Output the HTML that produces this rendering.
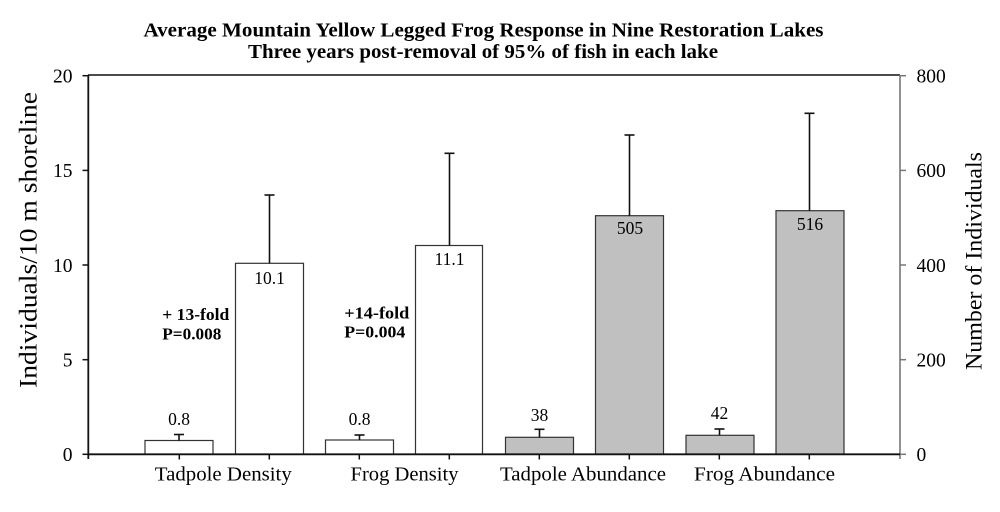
<!DOCTYPE html>
<html>
<head>
<meta charset="utf-8">
<style>
  html,body{margin:0;padding:0;background:#fff;}
  svg{display:block;}
  text{font-family:"Liberation Serif","Times New Roman",serif;fill:#000;}
</style>
</head>
<body>
<svg width="1000" height="512" viewBox="0 0 1000 512" xmlns="http://www.w3.org/2000/svg">
  <rect x="0" y="0" width="1000" height="512" fill="#fff"/>

  <!-- Title -->
  <text x="483.5" y="36.5" text-anchor="middle" font-size="20.5" font-weight="bold" textLength="680" lengthAdjust="spacingAndGlyphs">Average Mountain Yellow Legged Frog Response in Nine Restoration Lakes</text>
  <text x="483" y="58" text-anchor="middle" font-size="20.5" font-weight="bold" textLength="470" lengthAdjust="spacingAndGlyphs">Three years post-removal of 95% of fish in each lake</text>

  <!-- Bars -->
  <g stroke="#333" stroke-width="1.2">
    <rect x="145" y="440.5" width="68" height="13.8" fill="#fff"/>
    <rect x="235.5" y="263.3" width="68" height="191" fill="#fff"/>
    <rect x="325.5" y="440" width="68" height="14.3" fill="#fff"/>
    <rect x="415.5" y="245.5" width="67" height="208.8" fill="#fff"/>
    <rect x="505.5" y="437.3" width="68" height="17" fill="#c0c0c0"/>
    <rect x="595.5" y="215.7" width="68" height="238.6" fill="#c0c0c0"/>
    <rect x="686" y="435.3" width="68" height="19" fill="#c0c0c0"/>
    <rect x="776" y="210.7" width="68" height="243.6" fill="#c0c0c0"/>
  </g>

  <!-- Error bars -->
  <g stroke="#111" stroke-width="1.6" fill="none">
    <line x1="179" y1="440.5" x2="179" y2="434.5"/><line x1="174" y1="434.5" x2="184" y2="434.5"/>
    <line x1="269.5" y1="263.3" x2="269.5" y2="195"/><line x1="264.5" y1="195" x2="274.5" y2="195"/>
    <line x1="359.5" y1="440" x2="359.5" y2="435"/><line x1="354.5" y1="435" x2="364.5" y2="435"/>
    <line x1="449.5" y1="245.5" x2="449.5" y2="153.3"/><line x1="444.5" y1="153.3" x2="454.5" y2="153.3"/>
    <line x1="539.5" y1="437.3" x2="539.5" y2="429.3"/><line x1="534.5" y1="429.3" x2="544.5" y2="429.3"/>
    <line x1="629.5" y1="215.7" x2="629.5" y2="135"/><line x1="624.5" y1="135" x2="634.5" y2="135"/>
    <line x1="719.5" y1="435.3" x2="719.5" y2="429"/><line x1="714.5" y1="429" x2="724.5" y2="429"/>
    <line x1="809.5" y1="210.7" x2="809.5" y2="113.3"/><line x1="804.5" y1="113.3" x2="814.5" y2="113.3"/>
  </g>

  <!-- Axes -->
  <line x1="88" y1="75" x2="900" y2="75" stroke="#111" stroke-width="1.6"/>
  <line x1="900" y1="75" x2="900" y2="459" stroke="#777" stroke-width="1.6"/>
  <line x1="88.3" y1="75" x2="88.3" y2="459" stroke="#111" stroke-width="1.8"/>
  <line x1="88" y1="454.3" x2="900" y2="454.3" stroke="#111" stroke-width="1.8"/>

  <!-- Left ticks -->
  <g stroke="#111" stroke-width="1.5">
    <line x1="82.5" y1="75.7" x2="88" y2="75.7"/>
    <line x1="82.5" y1="170.4" x2="88" y2="170.4"/>
    <line x1="82.5" y1="265" x2="88" y2="265"/>
    <line x1="82.5" y1="359.7" x2="88" y2="359.7"/>
    <line x1="82.5" y1="454.3" x2="88" y2="454.3"/>
  </g>
  <!-- Right ticks -->
  <g stroke="#777" stroke-width="1.5">
    <line x1="900" y1="75.7" x2="906" y2="75.7"/>
    <line x1="900" y1="170.4" x2="906" y2="170.4"/>
    <line x1="900" y1="265" x2="906" y2="265"/>
    <line x1="900" y1="359.7" x2="906" y2="359.7"/>
    <line x1="900" y1="454.3" x2="906" y2="454.3"/>
  </g>
  <!-- X ticks -->
  <g stroke="#111" stroke-width="1.5">
    <line x1="179.3" y1="454.3" x2="179.3" y2="459.5"/>
    <line x1="269.3" y1="454.3" x2="269.3" y2="459.5"/>
    <line x1="359.3" y1="454.3" x2="359.3" y2="459.5"/>
    <line x1="449.3" y1="454.3" x2="449.3" y2="459.5"/>
    <line x1="539.3" y1="454.3" x2="539.3" y2="459.5"/>
    <line x1="629.3" y1="454.3" x2="629.3" y2="459.5"/>
    <line x1="719.3" y1="454.3" x2="719.3" y2="459.5"/>
    <line x1="809.3" y1="454.3" x2="809.3" y2="459.5"/>
  </g>

  <!-- Left tick labels -->
  <g font-size="19.5" text-anchor="end">
    <text x="72.5" y="82.5">20</text>
    <text x="72.5" y="177.2">15</text>
    <text x="72.5" y="271.8">10</text>
    <text x="72.5" y="366.5">5</text>
    <text x="72.5" y="461.1">0</text>
  </g>
  <!-- Right tick labels -->
  <g font-size="19.5" text-anchor="start">
    <text x="916.5" y="82.5">800</text>
    <text x="916.5" y="177.2">600</text>
    <text x="916.5" y="271.8">400</text>
    <text x="916.5" y="366.5">200</text>
    <text x="916.5" y="461.1">0</text>
  </g>

  <!-- Axis titles -->
  <text transform="translate(36.5,240) rotate(-90)" text-anchor="middle" font-size="25" textLength="296" lengthAdjust="spacingAndGlyphs">Individuals/10 m shoreline</text>
  <text transform="translate(981.5,261) rotate(-90)" text-anchor="middle" font-size="23.5" textLength="218" lengthAdjust="spacingAndGlyphs">Number of Individuals</text>

  <!-- X labels -->
  <g font-size="20.5" text-anchor="middle">
    <text x="223.3" y="480.5" textLength="137" lengthAdjust="spacingAndGlyphs">Tadpole Density</text>
    <text x="404.5" y="480.5" textLength="108" lengthAdjust="spacingAndGlyphs">Frog Density</text>
    <text x="583" y="480.5" textLength="166" lengthAdjust="spacingAndGlyphs">Tadpole Abundance</text>
    <text x="764.5" y="480.5" textLength="141" lengthAdjust="spacingAndGlyphs">Frog Abundance</text>
  </g>

  <!-- Value labels -->
  <g font-size="17.5" text-anchor="middle">
    <text x="179" y="425">0.8</text>
    <text x="269.5" y="284">10.1</text>
    <text x="359.5" y="425">0.8</text>
    <text x="449.5" y="265">11.1</text>
    <text x="539.5" y="421">38</text>
    <text x="630" y="234">505</text>
    <text x="719.5" y="419">42</text>
    <text x="810" y="230">516</text>
  </g>

  <!-- Annotations -->
  <g font-size="16.5" font-weight="bold">
    <text x="162.3" y="320" textLength="67" lengthAdjust="spacingAndGlyphs">+ 13-fold</text>
    <text x="162.3" y="339.3" textLength="59" lengthAdjust="spacingAndGlyphs">P=0.008</text>
    <text x="344.3" y="318.5" textLength="65" lengthAdjust="spacingAndGlyphs">+14-fold</text>
    <text x="344.3" y="337.5" textLength="61" lengthAdjust="spacingAndGlyphs">P=0.004</text>
  </g>
</svg>
</body>
</html>
